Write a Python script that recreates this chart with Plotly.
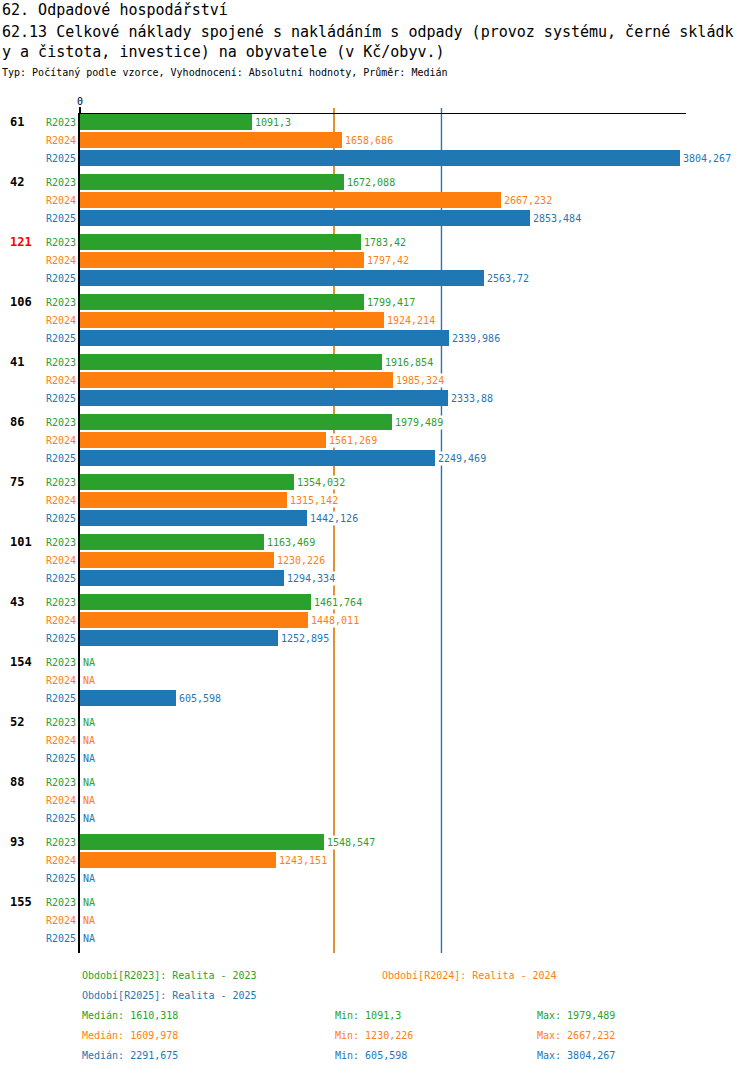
import numpy as np
import plotly.graph_objects as go

# --- data ---
groups = ['61', '42', '121', '106', '41', '86', '75', '101', '43', '154', '52', '88', '93', '155']
highlight = '121'
periods = ['R2023', 'R2024', 'R2025']
period_names = ['Realita - 2023', 'Realita - 2024', 'Realita - 2025']
colors = ['#2ca02c', '#ff7f0e', '#1f77b4']

r2023 = [1091.3, 1672.088, 1783.42, 1799.417, 1916.854, 1979.489, 1354.032,
         1163.469, 1461.764, None, None, None, 1548.547, None]
r2024 = [1658.686, 2667.232, 1797.42, 1924.214, 1985.324, 1561.269, 1315.142,
         1230.226, 1448.011, None, None, None, 1243.151, None]
r2025 = [3804.267, 2853.484, 2563.72, 2339.986, 2333.88, 2249.469, 1442.126,
         1294.334, 1252.895, 605.598, None, None, None, None]
series = [r2023, r2024, r2025]

title1 = '62. Odpadové hospodářství'
title2 = '62.13 Celkové náklady spojené s nakládáním s odpady (provoz systému, černé skládk'
title3 = 'y a čistota, investice) na obyvatele (v Kč/obyv.)'
subtitle = 'Typ: Počítaný podle vzorce, Vyhodnocení: Absolutní hodnoty, Průměr: Medián'

FONT = 'DejaVu Sans Mono'
W, H = 750, 1074
L, R, T, B = 80, 686, 114, 953
GROUP_H, ROW_H, BAR_W = 60, 18, 16


def px_x(px):
    return (px - L) / (R - L)


def px_y(py):
    return (B - py) / (B - T)


def fmt(v):
    s = f"{v + 1e-9:.3f}".rstrip('0').rstrip('.')
    return s.replace('.', ',')


fig = go.Figure()
tickvals, ticktext = [], []
annotations = []

for i, (name, vals, col) in enumerate(zip(periods, series, colors)):
    ys = [g * GROUP_H + i * ROW_H for g in range(len(groups))]
    fig.add_trace(go.Bar(
        x=vals, y=ys,
        orientation='h', width=BAR_W, marker=dict(color=col, line=dict(width=0)),
        name=name, showlegend=False, hoverinfo='x'))
    for y, v in zip(ys, vals):
        tickvals.append(y)
        ticktext.append(f"<span style='color:{col}'>{name}</span>")
        annotations.append(dict(
            x=v if v is not None else 0, y=y, xref='x', yref='y',
            text=fmt(v) if v is not None else 'NA', showarrow=False,
            xanchor='left', yanchor='middle', xshift=1,
            bgcolor='white', borderpad=1,
            font=dict(family=FONT, size=10, color=col)))

# group labels
for g, name in enumerate(groups):
    annotations.append(dict(
        x=px_x(8), y=g * GROUP_H, xref='paper', yref='y', text=f'<b>{name}</b>',
        showarrow=False, xanchor='left', yanchor='middle',
        font=dict(family=FONT, size=12, color='red' if name == highlight else 'black')))

# titles
for txt, py, sz in [(title1, 10, 15), (title2, 32, 15), (title3, 52, 15), (subtitle, 73, 10)]:
    annotations.append(dict(
        x=px_x(0), y=px_y(py), xref='paper', yref='paper', text=txt,
        showarrow=False, xanchor='left', yanchor='middle',
        font=dict(family=FONT, size=sz, color='black')))

# legend lines
legend_pos = [(80, 975), (380, 975), (80, 995)]
for (px, py), name, pname, col in zip(legend_pos, periods, period_names, colors):
    annotations.append(dict(
        x=px_x(px), y=px_y(py), xref='paper', yref='paper',
        text=f'Období[{name}]: {pname}', showarrow=False,
        xanchor='left', yanchor='middle', font=dict(family=FONT, size=10, color=col)))

# statistics + median lines
shapes = []
line_w = [1, 1.6, 1.4]
for k, (vals, col) in enumerate(zip(series, colors)):
    arr = np.array([v for v in vals if v is not None], dtype=float)
    med, mn, mx = np.median(arr), arr.min(), arr.max()
    py = 1015 + k * 20
    for px, lab, v in [(80, 'Medián', med), (333, 'Min', mn), (535, 'Max', mx)]:
        annotations.append(dict(
            x=px_x(px), y=px_y(py), xref='paper', yref='paper',
            text=f'{lab}: {fmt(v)}', showarrow=False,
            xanchor='left', yanchor='middle', font=dict(family=FONT, size=10, color=col)))
    shapes.append(dict(type='line', xref='x', yref='paper', x0=med, x1=med,
                       y0=0, y1=px_y(108), layer='below',
                       line=dict(color=col, width=line_w[k])))

# orange median drawn last so it covers the near-identical green one
shapes = [shapes[0], shapes[2], shapes[1]]

fig.update_layout(
    width=W, height=H,
    margin=dict(l=L, r=W - R, t=T, b=H - B, pad=0),
    plot_bgcolor='white', paper_bgcolor='white',
    font=dict(family=FONT, size=10, color='black'),
    barmode='overlay', bargap=0,
    annotations=annotations, shapes=shapes,
    xaxis=dict(range=[0, 3842], side='top', showline=True, linecolor='black', linewidth=1,
               tickvals=[0], ticktext=['0'], ticks='outside', ticklen=6, tickwidth=2,
               tickcolor='black', showgrid=False, zeroline=False, ticklabelstandoff=-2,
               tickfont=dict(family=FONT, size=10, color='black')),
    yaxis=dict(range=[830.5, -8], tickvals=tickvals, ticktext=ticktext,
               showline=True, linecolor='black', linewidth=2, ticks='',
               showgrid=False, zeroline=False,
               tickfont=dict(family=FONT, size=10)),
)

fig.write_html("out.html", config={'displayModeBar': False},
               post_script="document.body.style.margin='0';")
